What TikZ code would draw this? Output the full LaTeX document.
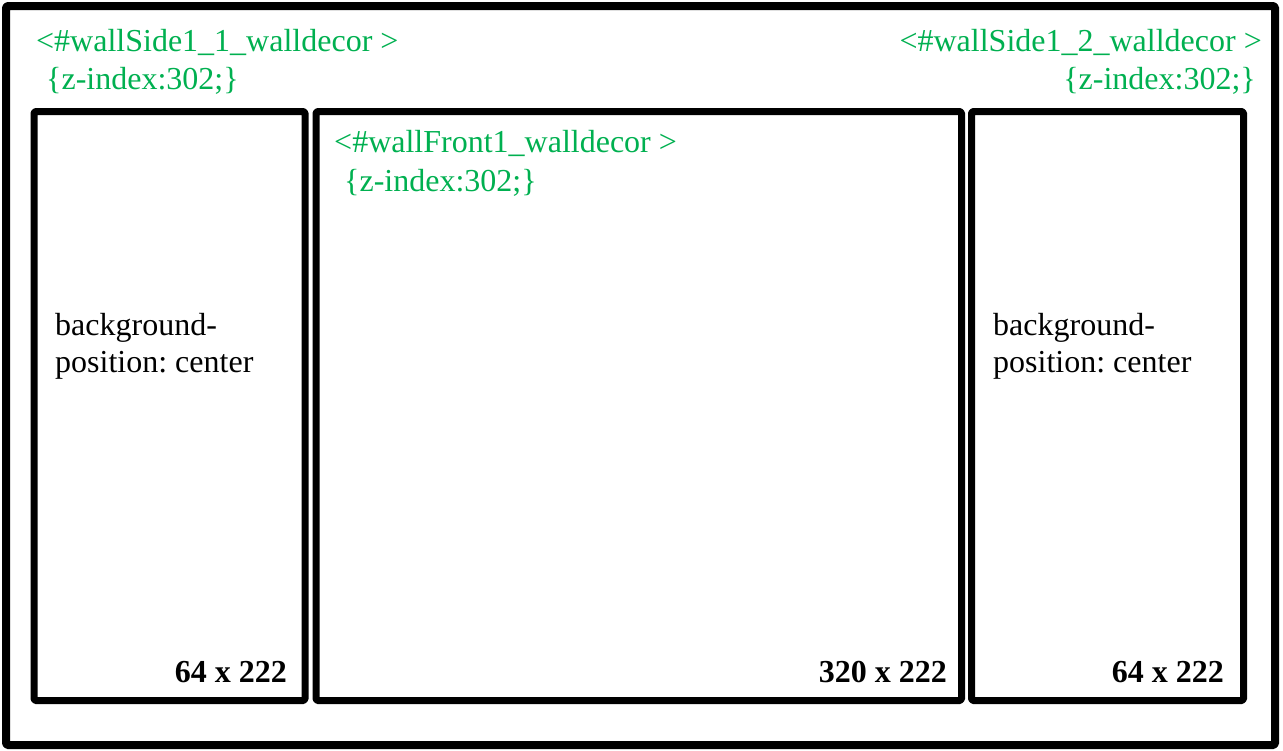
\documentclass[tikz,border=0pt]{standalone}
\usepackage{fontspec}
\setmainfont{Liberation Serif}
\frenchspacing
\definecolor{lbl}{RGB}{0,176,80}
\tikzset{
  frame/.style={draw=black, line width=#1, line join=round, rounded corners=1.5pt, inner sep=0pt, outer sep=0pt},
  tag/.style={text=lbl, inner sep=0pt, font=\fontsize{32}{38}\selectfont},
  note/.style={text=black, inner sep=0pt, font=\fontsize{32}{38}\selectfont},
  dims/.style={text=black, inner sep=0pt, font=\fontsize{32}{38}\selectfont\bfseries, anchor=base east},
}
\begin{document}
\begin{tikzpicture}[x=1pt,y=-1pt]
\useasboundingbox (0,0) rectangle (1283,750);
\node[frame=8pt, minimum width=1269pt, minimum height=739pt] (outer) at (640.5,375.5) {};
\node[frame=7pt, minimum width=271pt, minimum height=589pt] (left) at (169.5,406) {};
\node[frame=7pt, minimum width=645.5pt, minimum height=589pt] (front) at (638.75,406) {};
\node[frame=7pt, minimum width=272pt, minimum height=589pt] (right) at (1107.5,406) {};

\node[tag, anchor=base west] (l1) at (36,51) {<\#wallSide1\_1\_walldecor >};
\node[tag, anchor=base west] (l2) at (46,89) {\{z-index:302;\}};
\node[tag, anchor=base east] (r1) at (1262,51) {<\#wallSide1\_2\_walldecor >};
\node[tag, anchor=base east] (r2) at (1256,89) {\{z-index:302;\}};
\node[tag, anchor=base west] (f1) at (334,152) {<\#wallFront1\_walldecor >};
\node[tag, anchor=base west] (f2) at (344,191) {\{z-index:302;\}};

\node[note, anchor=base west] (lb1) at (55,335) {background-};
\node[note, anchor=base west] (lb2) at (55,372) {position: center};
\node[note, anchor=base west] (rb1) at (993,335) {background-};
\node[note, anchor=base west] (rb2) at (993,372) {position: center};

\node[dims] (ld) at (287,682) {64 x 222};
\node[dims] (fd) at (947,682) {320 x 222};
\node[dims] (rd) at (1224,682) {64 x 222};
\end{tikzpicture}
\end{document}
